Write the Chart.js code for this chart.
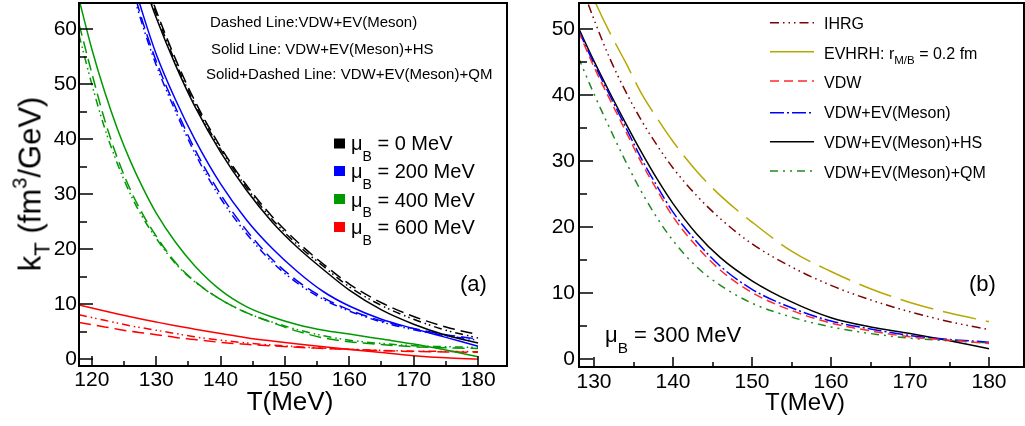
<!DOCTYPE html>
<html><head><meta charset="utf-8">
<script src="https://cdn.jsdelivr.net/npm/chart.js@4.4.0/dist/chart.umd.min.js"></script>
<style>
html,body{margin:0;padding:0;background:#fff;}
#wrap{position:relative;width:1025px;height:426px;overflow:hidden;font-family:"Liberation Sans",Arial,sans-serif;color:#000}
canvas{position:absolute;top:0}
.t{position:absolute;white-space:nowrap;}
.sb{position:relative;font-size:0.7em;top:0.75em}
.sbr{position:relative;font-size:0.72em;top:0.5em}
.sbt{position:relative;font-size:0.72em;top:0.4em}
.sp{position:relative;font-size:0.65em;top:-0.7em}
</style></head><body>
<div id="wrap">
<canvas id="ca" width="512" height="426" style="left:0"></canvas>
<canvas id="cb" width="513" height="426" style="left:512px"></canvas>
</div>
<script>
// ---------------- Panel (a) data ----------------
const TA = [118,120,122,124,126,128,130,133,136,140,144,148,152,156,160,165,170,175,180];
// mu_B = 0 MeV
const a0_EV = [115,104,94.5,85.5,77.5,70,63.4,54.6,47,38.6,31.7,26.0,21.3,17.3,13.7,10.3,7.8,5.9,4.5];
const a0_HS = [113,102,92.7,83.8,75.9,68.7,62.1,53.5,46.0,37.7,30.8,25.0,20.3,16.3,12.6,9.0,6.4,4.4,3.0];
const a0_QM = [114,103,93.5,84.5,76.5,69.3,62.8,54,46.5,38.2,31.3,25.5,20.8,16.9,13.2,9.8,7.3,5.3,3.9];
// mu_B = 200 MeV
const a200_EV = [110,97.5,87,77.8,69,61,54.2,45.8,38.2,30.0,23.5,18.2,14.2,11.2,9.0,7.0,5.6,4.5,3.7];
const a200_HS = [112,99.5,89,79.4,70.5,62.5,55.5,47.2,40.0,31.9,25.4,20.2,15.9,12.3,9.7,7.3,5.6,4.0,2.4];
const a200_QM = [109,96.5,86,77,68.2,60.3,53.5,45.1,37.5,29.3,22.9,17.7,13.8,10.9,8.8,6.8,5.4,4.3,3.5];
// mu_B = 400 MeV
const a400_EV = [61,52,43.5,36.5,30.8,26.2,22.4,17.6,14.2,10.9,8.5,6.7,5.1,3.9,3.2,2.7,2.3,2.1,2.0];
const a400_HS = [65.5,56.4,48.6,41.8,36.0,31.0,26.6,21.3,17.0,12.6,9.6,7.7,6.3,5.3,4.6,3.7,2.8,1.7,0.5];
const a400_QM = [59,50,42,35.5,30,25.6,22,17.4,14.1,10.9,8.5,6.8,5.4,4.3,3.5,2.9,2.5,2.3,2.2];
// mu_B = 600 MeV
const a600_EV = [6.7,6.3,5.9,5.5,5.1,4.8,4.5,4.0,3.6,3.1,2.75,2.45,2.2,2.0,1.8,1.6,1.45,1.35,1.3];
const a600_HS = [9.9,9.35,8.8,8.27,7.76,7.27,6.8,6.12,5.5,4.7,3.95,3.35,2.82,2.32,1.84,1.24,0.68,0.28,0.05];
const a600_QM = [8.1,7.6,7.1,6.6,6.1,5.7,5.3,4.7,4.1,3.5,3.0,2.6,2.3,2.05,1.85,1.65,1.5,1.45,1.4];
const xTicksA = [120,130,140,150,160,170,180];
const yTicksA = [0,10,20,30,40,50,60];

// ---------------- Panel (b) data (mu_B = 300 MeV) ----------------
const TB = [128,130,132,134,136,138,140,143,146,150,155,160,165,170,175,180];
const b_IHRG  = [58,51.5,45.6,40.6,36.2,32.4,29.0,24.8,21.3,17.5,14.0,11.2,9.0,7.2,5.7,4.5];
const b_EVHRH = [60,54.5,49.5,45.0,40.3,36.5,33.0,28.5,24.8,20.8,16.4,13.3,10.7,8.6,7.0,5.7];
const b_VDW   = [49.8,44.3,39.4,34.6,29.8,25.6,21.6,17.1,13.5,10.1,7.4,5.5,4.3,3.4,2.9,2.4];
const b_EV    = [50.0,44.8,40.0,35.2,30.4,26.2,22.3,17.8,14.1,10.6,7.8,5.8,4.6,3.6,3.0,2.6];
const b_HS    = [50.3,45.2,40.4,35.8,31.4,27.3,23.6,19.0,15.4,11.9,8.7,6.3,4.9,3.9,2.8,1.6];
const b_QM    = [45.8,40.2,35.0,30.0,25.4,21.4,18.0,14.0,11.2,8.5,6.4,4.9,3.9,3.2,2.8,2.5];
const xTicksB = [130,140,150,160,170,180];
const yTicksB = [0,10,20,30,40,50];

const FONT = '"Liberation Sans", Arial, sans-serif';

function pts(T, v){ return T.map((t,i)=>({x:t, y:v[i]})); }
function ds(label, T, v, color, dash, width){
  return {label, data: pts(T,v), borderColor: color, backgroundColor: color,
    borderDash: dash, borderWidth: width || 1.5, pointRadius: 0,
    cubicInterpolationMode: 'monotone', fill: false};
}

// inward major/minor ticks and the plot frame, placed through the chart's own scales
function makeFrameTicks(cfg){
  return {
    id: 'frameTicks',
    afterDraw(chart){
      const ctx = chart.ctx, a = chart.chartArea;
      const sx = chart.scales.x, sy = chart.scales.y;
      ctx.save();
      ctx.fillStyle = '#000';
      const x0 = cfg.xTicks[0], x1 = cfg.xTicks[cfg.xTicks.length-1];
      for (let v = x0; v <= x1 + 1e-9; v += 5) {
        const p = Math.round(sx.getPixelForValue(v));
        const L = cfg.xTicks.includes(v) ? 10 : 5;
        ctx.fillRect(p - 0.75, a.bottom - L, 1.5, L);
      }
      const y0 = cfg.yTicks[0], y1 = cfg.yTicks[cfg.yTicks.length-1];
      for (let v = y0; v <= y1 + 1e-9; v += 5) {
        const p = Math.round(sy.getPixelForValue(v));
        const L = cfg.yTicks.includes(v) ? 14 : 8;
        ctx.fillRect(a.left, p - 0.75, L, 1.5);
      }
      const l = Math.round(a.left), r = Math.round(a.right), t = Math.round(a.top), b = Math.round(a.bottom);
      ctx.fillRect(l - 1, t - 1, 2, b - t + 2);
      ctx.fillRect(r - 1, t - 1, 2, b - t + 2);
      ctx.fillRect(l - 1, t - 1, r - l + 2, 2);
      ctx.fillRect(l - 1, b - 1, r - l + 2, 2);
      ctx.restore();
    }
  };
}

function makeLegendMarks(items){
  return {
    id: 'legendMarks',
    afterDraw(chart){
      const ctx = chart.ctx;
      items.forEach(it => {
        const d = chart.data.datasets[it.ds];
        ctx.save();
        if (it.type === 'box') {
          ctx.fillStyle = d.borderColor;
          ctx.fillRect(it.x, it.y - it.h/2, it.w, it.h);
        } else {
          ctx.strokeStyle = d.borderColor;
          ctx.lineWidth = d.borderWidth;
          ctx.setLineDash(it.dash || d.borderDash || []);
          ctx.beginPath(); ctx.moveTo(it.x, it.y); ctx.lineTo(it.x + it.w, it.y); ctx.stroke();
        }
        ctx.restore();
      });
    }
  };
}

function makeOptions(cfg){
  return {
    responsive: false, animation: false, events: [],
    layout: {padding: {left: 0, right: cfg.padR, top: cfg.padT, bottom: 0}},
    plugins: {legend: {display: false}, tooltip: {enabled: false}},
    scales: {
      x: {
        type: 'linear', min: cfg.xmin, max: cfg.xmax,
        afterFit(s){ s.height = cfg.xH; s.paddingLeft = 0; s.paddingRight = 0; s.paddingTop = 0; s.paddingBottom = 0; },
        grid: {display: false, drawTicks: false, tickLength: 0},
        border: {display: false},
        ticks: {stepSize: 5, includeBounds: false, autoSkip: false, maxRotation: 0, minRotation: 0,
          padding: cfg.xPad, color: '#000', font: {family: FONT, size: 21},
          callback: v => cfg.xTicks.includes(v) ? String(v) : ''}
      },
      y: {
        type: 'linear', min: cfg.ymin, max: cfg.ymax,
        afterFit(s){ s.width = cfg.yW; s.paddingLeft = 0; s.paddingRight = 0; s.paddingTop = 0; s.paddingBottom = 0; },
        grid: {display: false, drawTicks: false, tickLength: 0},
        border: {display: false},
        ticks: {stepSize: 5, includeBounds: false, autoSkip: false,
          padding: cfg.yPad, color: '#000', font: {family: FONT, size: 21},
          callback: v => cfg.yTicks.includes(v) ? String(v) : ''}
      }
    }
  };
}

// ---------------- Panel (a) chart ----------------
const dashEV = [12,6], dashQM = [8,4,1.5,3,1.5,4];
const cBlack = '#000000', cBlue = '#0000ff', cGreen = '#009900', cRed = '#ff0000';
const cfgA = {xmin: 118, xmax: 184.5, ymin: -1.2, ymax: 64.8, xTicks: xTicksA, yTicks: yTicksA,
  yW: 79, xH: 60, padR: 5, padT: 3, xPad: 2, yPad: 2};
new Chart(document.getElementById('ca'), {
  type: 'line',
  data: {datasets: [
    ds('VDW+EV(Meson) 0', TA, a0_EV, cBlack, dashEV),
    ds('VDW+EV(Meson)+HS 0', TA, a0_HS, cBlack, []),
    ds('VDW+EV(Meson)+QM 0', TA, a0_QM, cBlack, dashQM),
    ds('VDW+EV(Meson) 200', TA, a200_EV, cBlue, dashEV),
    ds('VDW+EV(Meson)+HS 200', TA, a200_HS, cBlue, []),
    ds('VDW+EV(Meson)+QM 200', TA, a200_QM, cBlue, dashQM),
    ds('VDW+EV(Meson) 400', TA, a400_EV, cGreen, dashEV),
    ds('VDW+EV(Meson)+HS 400', TA, a400_HS, cGreen, []),
    ds('VDW+EV(Meson)+QM 400', TA, a400_QM, cGreen, dashQM),
    ds('VDW+EV(Meson) 600', TA, a600_EV, cRed, dashEV),
    ds('VDW+EV(Meson)+HS 600', TA, a600_HS, cRed, []),
    ds('VDW+EV(Meson)+QM 600', TA, a600_QM, cRed, dashQM)
  ]},
  options: makeOptions(cfgA),
  plugins: [makeFrameTicks(cfgA), makeLegendMarks([
    {ds: 1, type: 'box', x: 334, y: 143.5, w: 11, h: 10},
    {ds: 4, type: 'box', x: 334, y: 171, w: 11, h: 10},
    {ds: 7, type: 'box', x: 334, y: 199, w: 11, h: 10},
    {ds: 10, type: 'box', x: 334, y: 227, w: 11, h: 10}
  ])]
});

// ---------------- Panel (b) chart ----------------
const cfgB = {xmin: 128.1, xmax: 184.43, ymin: -1.17, ymax: 54, xTicks: xTicksB, yTicks: yTicksB,
  yW: 67, xH: 59, padR: 1, padT: 3, xPad: 3, yPad: 4};
new Chart(document.getElementById('cb'), {
  type: 'line',
  data: {datasets: [
    ds('IHRG', TB, b_IHRG, '#800000', [9,4,1.5,4,1.5,4,1.5,4]),
    ds('EVHRH', TB, b_EVHRH, '#b5a900', [34,10]),
    ds('VDW', TB, b_VDW, '#ff2a2a', [9,5]),
    ds('VDW+EV(Meson)', TB, b_EV, '#0000ff', [14,3,2,3]),
    ds('VDW+EV(Meson)+HS', TB, b_HS, '#000000', []),
    ds('VDW+EV(Meson)+QM', TB, b_QM, '#1f8a1f', [8,5,2,5,2,5])
  ]},
  options: makeOptions(cfgB),
  plugins: [makeFrameTicks(cfgB), makeLegendMarks([
    {ds: 0, type: 'line', x: 258, y: 22.7, w: 44},
    {ds: 1, type: 'line', x: 258, y: 51.7, w: 44, dash: []},
    {ds: 2, type: 'line', x: 258, y: 81, w: 44},
    {ds: 3, type: 'line', x: 258, y: 112.7, w: 44},
    {ds: 4, type: 'line', x: 258, y: 141.7, w: 44},
    {ds: 5, type: 'line', x: 258, y: 171, w: 44}
  ])]
});

// ---------------- Text annotations ----------------
const wrap = document.getElementById('wrap');
function label(html, x, yc, size, align, rotate){
  const d = document.createElement('div');
  d.className = 't';
  d.innerHTML = html;
  d.style.fontSize = size + 'px';
  d.style.lineHeight = size + 'px';
  d.style.left = x + 'px';
  if (rotate) {
    d.style.top = yc + 'px';
    d.style.transform = 'translate(-50%,-50%) rotate(-90deg)';
  } else {
    d.style.top = (yc - 0.49 * size) + 'px';
    if (align === 'center') d.style.transform = 'translateX(-50%)';
  }
  wrap.appendChild(d);
}
label('k<span class="sbt">T</span> (fm<span class="sp">3</span>/GeV)', 32, 184, 31, null, true);
label('T(MeV)', 290, 400.5, 26, 'center');
label('T(MeV)', 805, 401.5, 24, 'center');
label('Dashed Line:VDW+EV(Meson)', 210, 21, 15);
label('Solid Line: VDW+EV(Meson)+HS', 211, 48.5, 15);
label('Solid+Dashed Line: VDW+EV(Meson)+QM', 206, 73.5, 15);
label('μ<span class="sb">B</span> = 0 MeV', 351, 143, 20);
label('μ<span class="sb">B</span> = 200 MeV', 351, 171, 20);
label('μ<span class="sb">B</span> = 400 MeV', 351, 199.5, 20);
label('μ<span class="sb">B</span> = 600 MeV', 351, 227, 20);
label('(a)', 460, 284, 22);
label('(b)', 969, 284, 22);
label('μ<span class="sb">B</span> = 300 MeV', 605, 334.5, 22);
label('IHRG', 824, 24.2, 16);
label('EVHRH: r<span class="sbr">M/B</span> = 0.2 fm', 824, 53.5, 16);
label('VDW', 824, 82.5, 16);
label('VDW+EV(Meson)', 824, 112.5, 16);
label('VDW+EV(Meson)+HS', 824, 142.5, 16);
label('VDW+EV(Meson)+QM', 824, 172.5, 16);
</script>
</body></html>
